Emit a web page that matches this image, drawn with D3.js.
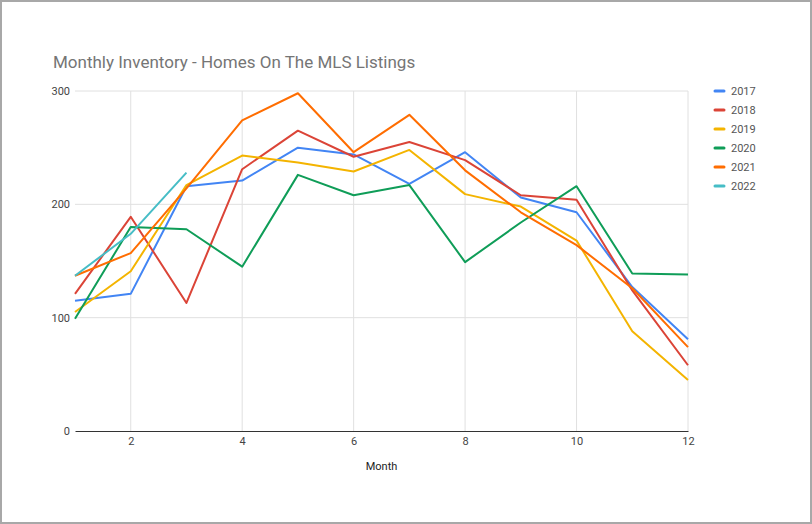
<!DOCTYPE html>
<html>
<head>
<meta charset="utf-8">
<script src="https://cdn.jsdelivr.net/npm/d3@7"></script>
<style>
html,body{margin:0;padding:0;background:#fff;}
svg{display:block;}
</style>
</head>
<body>
<script>
const months = [1,2,3,4,5,6,7,8,9,10,11,12];
const seriesNames = ["2017","2018","2019","2020","2021","2022"];
const colors = ["#4285F4","#DB4437","#F4B400","#0F9D58","#FF6D01","#46BDC6"];
const v2017 = [115,121,216,221,250,244,218,246,206,193,127,81];
const v2018 = [121,189,113,231,265,242,255,239,208,204,124,58];
const v2019 = [105,141,217,243,237,229,248,209,198,168,88,45];
const v2020 = [99,180,178,145,226,208,217,149,184,216,139,138];
const v2021 = [137,157,214,274,298,246,279,230,193,164,126,74];
const v2022 = [137,174,228];
const yTicks = [0,100,200,300];
const xTicks = [2,4,6,8,10,12];
const title = "Monthly Inventory - Homes On The MLS Listings";
const xTitle = "Month";

(function(){
const allValues = [v2017,v2018,v2019,v2020,v2021,v2022];
const W = 812, H = 524;
const svg = d3.select("body").append("svg").attr("width",W).attr("height",H);
svg.append("rect").attr("x",1).attr("y",1).attr("width",W-2).attr("height",H-2)
  .attr("fill","#fff").attr("stroke","#a8a8a8").attr("stroke-width",2);

const pL = 75, pR = 688, pT = 91, pB = 431;
const x = d3.scaleLinear().domain([1,12]).range([pL,pR]);
const y = d3.scaleLinear().domain([0,300]).range([pB,pT]);
const font = "Roboto, 'Noto Sans', Arial, sans-serif";

svg.append("text").attr("x",53).attr("y",68).text(title)
  .attr("font-family",font).attr("font-size",17).attr("fill","#757575");

const g = svg.append("g");
g.selectAll(".hg").data(yTicks.filter(d=>d>0)).enter().append("line")
  .attr("x1",pL).attr("x2",pR).attr("y1",d=>y(d)).attr("y2",d=>y(d))
  .attr("stroke","#e0e0e0").attr("stroke-width",1);
g.selectAll(".vg").data(xTicks).enter().append("line")
  .attr("x1",d=>x(d)).attr("x2",d=>x(d)).attr("y1",pT).attr("y2",pB)
  .attr("stroke","#e0e0e0").attr("stroke-width",1);

const yAxis = d3.axisLeft(y).tickValues(yTicks).tickSize(0).tickPadding(5);
const ya = svg.append("g").attr("transform",`translate(${pL},0)`).call(yAxis);
ya.select(".domain").remove();
ya.selectAll("text").attr("font-family",font).attr("font-size",11).attr("fill","#444");

const xAxis = d3.axisBottom(x).tickValues(xTicks).tickSize(0).tickPadding(6);
const xa = svg.append("g").attr("transform",`translate(0,${pB})`).call(xAxis);
xa.select(".domain").attr("stroke","#333").attr("stroke-width",1);
xa.selectAll("text").attr("font-family",font).attr("font-size",11).attr("fill","#444");

svg.append("text").attr("x",(pL+pR)/2).attr("y",470).attr("text-anchor","middle")
  .text(xTitle).attr("font-family",font).attr("font-size",11).attr("fill","#222");

const line = d3.line().x((d,i)=>x(months[i])).y(d=>y(d));
allValues.forEach((vals,k)=>{
  svg.append("path").datum(vals).attr("d",line).attr("fill","none")
    .attr("stroke",colors[k]).attr("stroke-width",2).attr("stroke-linejoin","round");
});

const lg = svg.append("g");
seriesNames.forEach((n,k)=>{
  const yy = 91 + k*19;
  lg.append("line").attr("x1",715).attr("x2",724).attr("y1",yy).attr("y2",yy)
    .attr("stroke",colors[k]).attr("stroke-width",3).attr("stroke-linecap","round");
  lg.append("text").attr("x",731).attr("y",yy+4).text(n)
    .attr("font-family",font).attr("font-size",11).attr("fill","#555");
});
})();
</script>
</body>
</html>
